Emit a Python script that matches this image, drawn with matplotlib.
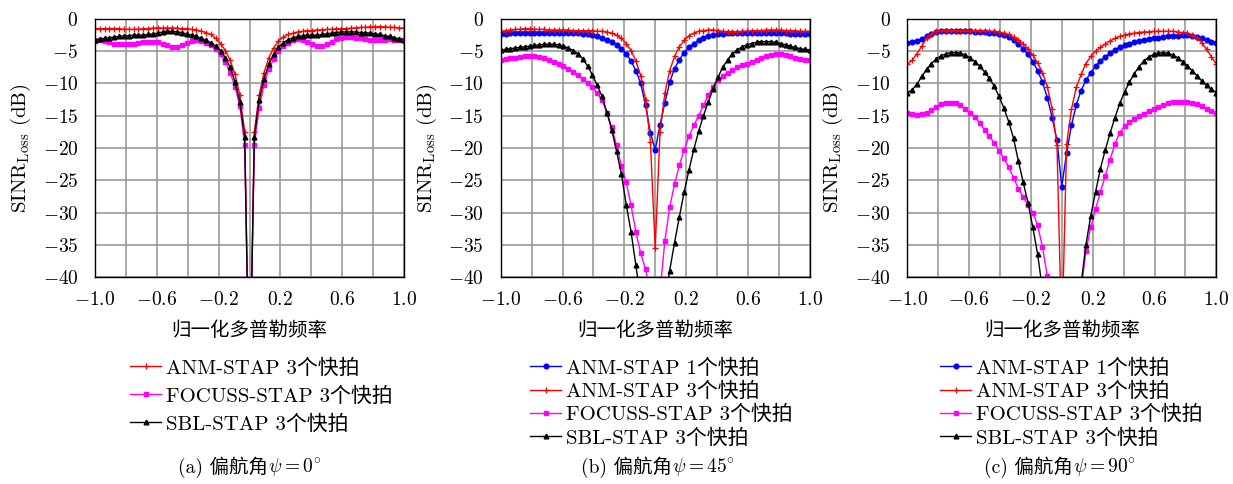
import numpy as np
import matplotlib
matplotlib.use("Agg")
import matplotlib.pyplot as plt
from matplotlib.font_manager import FontProperties

plt.rcParams['mathtext.fontset'] = 'cm'
plt.rcParams['font.family'] = ['cmr10', 'Noto Sans CJK SC']
plt.rcParams['axes.unicode_minus'] = False

# normalised Doppler frequency, 65 bins
fd = np.linspace(-1, 1, 65)

# (a) yaw angle 0 deg
a_anm3 = [-1.5, -1.5, -1.5, -1.5, -1.5, -1.5, -1.6, -1.6,
          -1.6, -1.6, -1.5, -1.5, -1.4, -1.4, -1.4, -1.4,
          -1.4, -1.4, -1.5, -1.5, -1.6, -1.7, -1.9, -2.1,
          -2.4, -3.0, -3.8, -4.9, -6.4, -8.6, -11.8, -17.5,
          -60,
          -17.5, -11.8, -8.3, -6.0, -4.5, -3.4, -2.8, -2.4,
          -2.2, -2.0, -1.9, -1.8, -1.8, -1.7, -1.7, -1.6,
          -1.6, -1.5, -1.5, -1.5, -1.4, -1.4, -1.3, -1.3,
          -1.2, -1.2, -1.2, -1.2, -1.3, -1.3, -1.4, -1.4]
a_focuss3 = [-3.4, -3.3, -3.4, -3.6, -3.8, -3.9, -3.9, -3.9,
             -3.8, -3.7, -3.6, -3.5, -3.5, -3.6, -3.8, -4.1,
             -4.3, -4.3, -4.0, -3.7, -3.4, -3.3, -3.4, -3.7,
             -4.1, -4.7, -5.5, -6.7, -8.3, -10.5, -13.5, -19.5,
             -60,
             -19.5, -13.8, -10.2, -7.8, -6.2, -5.0, -4.2, -3.7,
             -3.3, -3.1, -3.2, -3.5, -3.9, -4.2, -4.2, -3.9,
             -3.5, -3.1, -2.9, -2.8, -2.8, -2.9, -3.0, -3.1,
             -3.2, -3.2, -3.2, -3.2, -3.1, -3.2, -3.2, -3.3]
a_sbl3 = [-3.2, -3.1, -3.0, -2.9, -2.8, -2.7, -2.6, -2.6,
          -2.5, -2.5, -2.5, -2.4, -2.3, -2.2, -2.0, -1.9,
          -1.9, -2.0, -2.1, -2.3, -2.5, -2.7, -3.0, -3.3,
          -3.7, -4.2, -4.9, -6.0, -7.5, -9.7, -12.8, -18.3,
          -60,
          -18.3, -12.6, -9.3, -7.0, -5.5, -4.4, -3.7, -3.2,
          -2.9, -2.7, -2.6, -2.5, -2.5, -2.5, -2.4, -2.3,
          -2.2, -2.1, -2.0, -2.0, -2.0, -2.0, -2.1, -2.1,
          -2.2, -2.3, -2.4, -2.6, -2.7, -2.9, -3.1, -3.2]

# (b) yaw angle 45 deg
b_anm1 = [-2.3, -2.3, -2.2, -2.2, -2.2, -2.1, -2.1, -2.1,
          -2.1, -2.1, -2.1, -2.1, -2.1, -2.1, -2.1, -2.2,
          -2.2, -2.3, -2.4, -2.5, -2.7, -2.9, -3.2, -3.6,
          -4.0, -4.6, -5.4, -6.5, -8.0, -10.0, -13.4, -17.6,
          -20.3,
          -16.4, -13.0, -9.8, -7.7, -6.3, -5.2, -4.4, -3.8,
          -3.3, -3.0, -2.7, -2.5, -2.4, -2.3, -2.2, -2.2,
          -2.1, -2.1, -2.1, -2.1, -2.1, -2.1, -2.1, -2.2,
          -2.2, -2.2, -2.2, -2.3, -2.3, -2.3, -2.3, -2.3]
b_anm3 = [-1.9, -1.8, -1.7, -1.6, -1.6, -1.5, -1.5, -1.6,
          -1.6, -1.6, -1.7, -1.7, -1.7, -1.7, -1.7, -1.8,
          -1.8, -1.8, -1.8, -1.8, -1.9, -1.9, -2.0, -2.2,
          -2.5, -3.0, -3.8, -4.9, -6.5, -8.8, -12.5, -19.0,
          -35.5,
          -17.5, -11.5, -8.0, -5.8, -4.3, -3.3, -2.6, -2.2,
          -1.9, -1.8, -1.7, -1.7, -1.8, -1.9, -2.0, -2.0,
          -2.0, -1.9, -1.9, -1.8, -1.8, -1.8, -1.7, -1.7,
          -1.7, -1.7, -1.8, -1.8, -1.8, -1.9, -1.9, -1.9]
b_focuss3 = [-6.3, -6.2, -6.1, -6.0, -5.9, -5.8, -5.7, -5.8,
             -5.9, -6.1, -6.4, -6.6, -6.9, -7.3, -7.7, -8.2,
             -8.7, -9.3, -9.9, -10.6, -11.5, -12.6, -14.5, -16.8,
             -19.6, -22.8, -25.3, -28.9, -33.0, -36.3, -38.8, -42.4,
             -50,
             -42.3, -34.4, -29.2, -25.6, -22.7, -20.3, -18.2, -16.5,
             -15.0, -13.4, -11.8, -10.5, -9.5, -8.8, -8.3, -7.9,
             -7.5, -7.2, -6.9, -6.6, -6.3, -6.0, -5.8, -5.6,
             -5.5, -5.5, -5.6, -5.8, -6.0, -6.2, -6.3, -6.3]
b_sbl3 = [-4.8, -4.7, -4.6, -4.5, -4.4, -4.3, -4.2, -4.1,
          -4.0, -3.9, -3.9, -3.9, -4.0, -4.2, -4.5, -4.9,
          -5.4, -6.2, -7.3, -8.7, -10.3, -12.0, -14.5, -17.2,
          -20.5, -24.0, -28.8, -33.0, -38.2, -43.5, -48.0, -52.0,
          -55,
          -50.0, -44.0, -39.0, -34.7, -30.7, -26.8, -23.4, -20.2,
          -17.4, -15.0, -12.8, -10.8, -9.0, -7.5, -6.3, -5.4,
          -4.8, -4.3, -4.0, -3.8, -3.6, -3.5, -3.5, -3.5,
          -3.6, -3.8, -4.0, -4.2, -4.4, -4.6, -4.7, -4.8]

# (c) yaw angle 90 deg
c_anm1 = [-3.7, -3.6, -3.4, -3.1, -2.7, -2.3, -2.0, -1.9,
          -1.9, -1.9, -1.9, -1.9, -1.9, -1.9, -2.0, -2.0,
          -2.0, -2.1, -2.2, -2.3, -2.5, -2.8, -3.3, -3.9,
          -4.6, -5.5, -6.6, -8.0, -9.8, -12.2, -15.3, -18.8,
          -26.0,
          -20.7, -16.5, -13.3, -11.1, -9.5, -8.3, -7.3, -6.5,
          -5.9, -5.3, -4.8, -4.4, -4.1, -3.8, -3.6, -3.4,
          -3.2, -3.1, -3.0, -2.9, -2.8, -2.7, -2.6, -2.6,
          -2.5, -2.5, -2.6, -2.8, -3.0, -3.3, -3.5, -3.7]
c_anm3 = [-7.0, -6.4, -5.4, -4.2, -3.0, -2.3, -1.9, -1.8,
          -1.8, -1.8, -1.8, -1.8, -1.8, -1.8, -1.8, -1.8,
          -1.8, -1.9, -1.9, -2.0, -2.2, -2.4, -2.8, -3.2,
          -3.8, -4.6, -5.6, -6.8, -8.3, -10.5, -14.0, -19.5,
          -50,
          -19.4, -14.0, -10.6, -8.6, -6.9, -5.8, -5.0, -4.4,
          -3.9, -3.4, -3.0, -2.7, -2.5, -2.3, -2.2, -2.1,
          -2.0, -2.0, -1.9, -1.9, -1.9, -1.9, -1.9, -2.0,
          -2.1, -2.2, -2.5, -3.0, -3.7, -4.7, -5.9, -7.0]
c_focuss3 = [-14.6, -14.8, -14.9, -14.8, -14.5, -14.1, -13.6, -13.2,
             -13.0, -13.0, -13.1, -13.3, -13.9, -14.5, -15.2, -16.1,
             -17.2, -18.2, -19.2, -20.4, -21.6, -23.0, -24.6, -26.3,
             -27.6, -28.8, -30.0, -32.0, -35.4, -39.8, -45.0, -50.0,
             -55,
             -52.0, -48.0, -44.0, -42.0, -36.0, -32.3, -29.5, -26.8,
             -24.3, -21.8, -19.4, -17.6, -16.6, -16.0, -15.5, -15.1,
             -14.7, -14.3, -13.9, -13.6, -13.3, -13.1, -12.9, -12.8,
             -12.8, -12.8, -13.0, -13.2, -13.5, -13.9, -14.3, -14.6]
c_sbl3 = [-11.4, -11.0, -10.1, -8.9, -7.8, -6.9, -6.2, -5.7,
          -5.4, -5.2, -5.2, -5.3, -5.6, -6.0, -6.6, -7.3,
          -8.2, -9.2, -10.4, -12.0, -13.8, -15.9, -18.5, -22.0,
          -25.3, -28.5, -32.3, -36.5, -42.0, -46.0, -50.0, -53.0,
          -55,
          -53.0, -49.0, -44.5, -41.0, -35.0, -30.5, -26.8, -23.2,
          -20.3, -17.7, -15.3, -13.1, -11.3, -9.8, -8.5, -7.4,
          -6.5, -5.9, -5.5, -5.3, -5.2, -5.3, -5.6, -6.0,
          -6.6, -7.3, -8.0, -8.8, -9.6, -10.3, -10.9, -11.4]

xticks = [-1.0, -0.8, -0.6, -0.4, -0.2, 0.0, 0.2, 0.4, 0.6, 0.8, 1.0]
xlabels = ['$-1.0$', '', '$-0.6$', '', '$-0.2$', '', '$0.2$', '', '$0.6$', '', '$1.0$']
yticks = [0, -5, -10, -15, -20, -25, -30, -35, -40]
ylabels = ['$%d$' % v for v in yticks]

styles = {
    'anm1': dict(color='#0000ff', marker='o', ms=3.4, label='ANM-STAP 1个快拍'),
    'anm3': dict(color='#ff0000', marker='+', ms=4.5, mew=0.9, label='ANM-STAP 3个快拍'),
    'focuss3': dict(color='#ff00ff', marker='s', ms=3.4, label='FOCUSS-STAP 3个快拍'),
    'sbl3': dict(color='black', marker='^', ms=3.4, label='SBL-STAP 3个快拍'),
}

panels = [
    ([('anm3', a_anm3), ('focuss3', a_focuss3), ('sbl3', a_sbl3)],
     '(a) 偏航角', r'$\psi=0^{\circ}$'),
    ([('anm1', b_anm1), ('anm3', b_anm3), ('focuss3', b_focuss3), ('sbl3', b_sbl3)],
     '(b) 偏航角', r'$\psi=45^{\circ}$'),
    ([('anm1', c_anm1), ('anm3', c_anm3), ('focuss3', c_focuss3), ('sbl3', c_sbl3)],
     '(c) 偏航角', r'$\psi=90^{\circ}$'),
]

W, H = 1233, 484
fig = plt.figure(figsize=(W / 100, H / 100), dpi=100)
lefts = [95, 500.7, 907.3]
leg_x = [130, 530, 940]
leg_space = [0.42, 0.2, 0.2]
cap_split = [268, 672, 1073]
cjk = ['cmr10', 'Noto Sans CJK SC']
font = FontProperties(family=cjk, size=15)

for k, (series, cap_text, cap_math) in enumerate(panels):
    ax = fig.add_axes([lefts[k] / W, 207 / H, 309 / W, 258 / H])
    for key, vals in series:
        ax.plot(fd, vals, lw=1.0, **styles[key])
    ax.set_xlim(-1, 1)
    ax.set_ylim(-40, 0)
    ax.set_xticks(xticks)
    ax.set_xticklabels(xlabels, fontsize=14)
    ax.set_yticks(yticks)
    ax.set_yticklabels(ylabels, fontsize=14)
    ax.tick_params(length=0)
    ax.tick_params(axis='y', pad=12)
    ax.tick_params(axis='x', pad=10)
    ax.grid(True, color='#999999', lw=1.2)
    ax.set_axisbelow(True)
    for sp in ax.spines.values():
        sp.set_linewidth(1.0)
    ax.set_ylabel(r'$\mathrm{SINR}_{\mathrm{Loss}}$ (dB)', fontsize=15, labelpad=7)
    ax.set_xlabel('归一化多普勒频率', fontsize=14,
                  fontfamily=['Noto Sans CJK SC'], labelpad=8)
    ax.legend(loc='upper left', bbox_to_anchor=(leg_x[k] / W, 0.26),
              bbox_transform=fig.transFigure, frameon=False, prop=font,
              borderpad=0, borderaxespad=0, handlelength=1.5,
              handletextpad=0.25, labelspacing=leg_space[k])
    # caption: text part and math part share one baseline
    fig.text(cap_split[k] / W, 11 / H, cap_text, ha='right', va='baseline',
             fontsize=14, family=cjk)
    fig.text(cap_split[k] / W, 11 / H, cap_math, ha='left', va='baseline',
             fontsize=14)

fig.savefig('out.png', dpi=100)
